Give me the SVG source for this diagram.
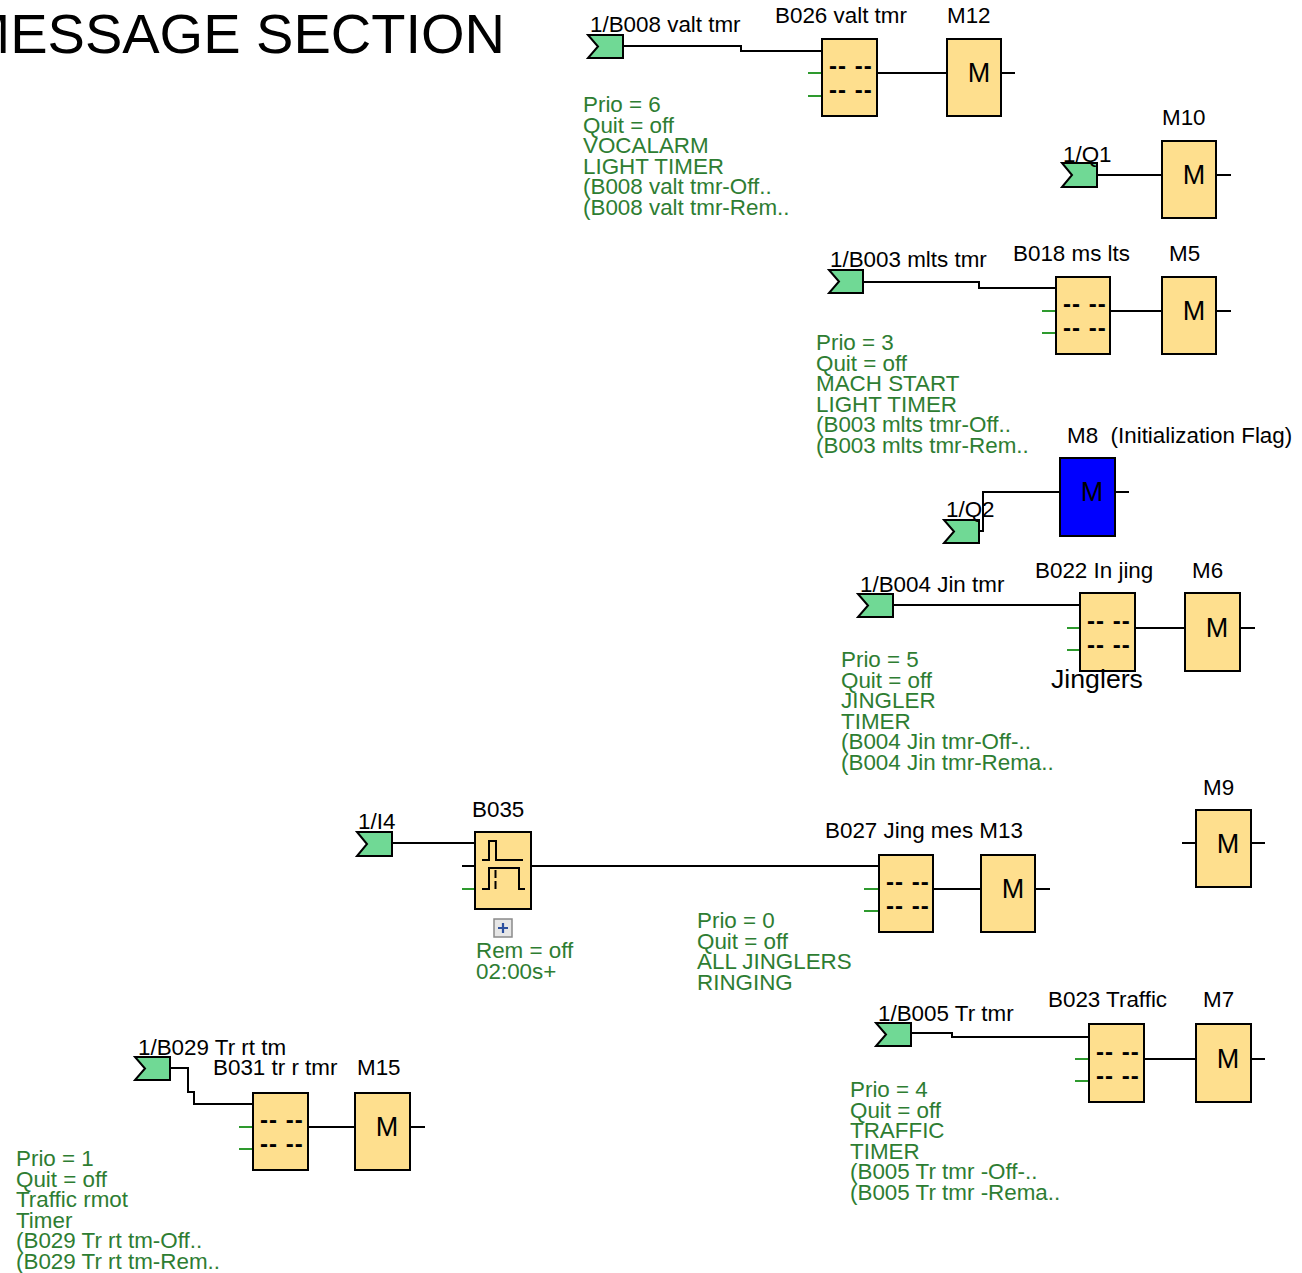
<svg xmlns="http://www.w3.org/2000/svg" width="1302" height="1273" viewBox="0 0 1302 1273">
<style>
text{font-family:"Liberation Sans",Arial,sans-serif}
.lbl{font-size:22.4px;fill:#000}
.gt{font-size:22.4px;fill:#2e7d32}
.mt{font-size:27px;fill:#000}
.dd{font-size:24px;fill:#000;letter-spacing:1px;font-weight:bold}
.blk{fill:#fedf8e;stroke:#000;stroke-width:2}
.mb{fill:#0000ff;stroke:#000;stroke-width:2}
.flag{fill:#70d995;stroke:#000;stroke-width:2}
.w{fill:none;stroke:#000;stroke-width:2}
.gi{fill:none;stroke:#2e9a2e;stroke-width:2}
</style>
<rect width="1302" height="1273" fill="#fff"/>
<text x="505" y="53" text-anchor="end" style="font-size:56px;fill:#000">MESSAGE SECTION</text>

<g id="connectors">
<path class="w" d="M623,46 H741 V51 H822"/>
<path class="w" d="M877,73 H947 M1001,73 H1015"/>
<path class="w" d="M1097,175 H1162 M1216,175 H1231"/>
<path class="w" d="M863,282 H979 V288 H1056"/>
<path class="w" d="M1110,311 H1162 M1216,311 H1231"/>
<path class="w" d="M979,531 H983 V492 H1060 M1115,492 H1129"/>
<path class="w" d="M893,605 H1080"/>
<path class="w" d="M1135,628 H1185 M1240,628 H1255"/>
<path class="w" d="M1182,843 H1196 M1251,843 H1265"/>
<path class="w" d="M392,843 H475 M462,866 H475 M531,866 H879"/>
<path class="w" d="M933,889 H981 M1035,889 H1050"/>
<path class="w" d="M911,1033 H952 V1037 H1089"/>
<path class="w" d="M1144,1059 H1196 M1251,1059 H1265"/>
<path class="w" d="M170,1068 H188 V1092 H194 V1104 H253"/>
<path class="w" d="M308,1127 H355 M410,1127 H425"/>
<path class="gi" d="M808,73 H822 M808,96 H822 M1042,311 H1056 M1042,333 H1056 M1067,628 H1080 M1067,650 H1080 M462,889 H475 M864,889 H879 M864,911 H879 M1075,1059 H1089 M1075,1081 H1089 M239,1127 H253 M239,1149 H253"/>
</g>

<g id="in_B008">
<path class="flag" d="M588,35 H623 V58 H588 L598,46.5 Z"/>
<text class="lbl" x="590" y="32">1/B008 valt tmr</text>
</g>
<g id="B026">
<rect class="blk" x="822" y="39" width="55" height="77"/>
<text class="dd" x="829" y="74">-- --</text>
<text class="dd" x="829" y="98">-- --</text>
<text class="lbl" x="775" y="23">B026 valt tmr</text>
<text class="gt" x="583" y="112">Prio = 6</text>
<text class="gt" x="583" y="132.5">Quit = off</text>
<text class="gt" x="583" y="153">VOCALARM</text>
<text class="gt" x="583" y="173.5">LIGHT TIMER</text>
<text class="gt" x="583" y="194">(B008 valt tmr-Off..</text>
<text class="gt" x="583" y="214.5">(B008 valt tmr-Rem..</text>
</g>
<g id="M12">
<rect class="blk" x="947" y="39" width="54" height="77"/>
<text class="mt" x="979" y="82" text-anchor="middle">M</text>
<text class="lbl" x="947" y="23">M12</text>
</g>

<g id="in_Q1">
<path class="flag" d="M1062,163 H1097 V187 H1062 L1072,175 Z"/>
<text class="lbl" x="1063" y="162">1/Q1</text>
</g>
<g id="M10">
<rect class="blk" x="1162" y="141" width="54" height="77"/>
<text class="mt" x="1194" y="184" text-anchor="middle">M</text>
<text class="lbl" x="1162" y="125">M10</text>
</g>

<g id="in_B003">
<path class="flag" d="M829,270 H863 V293 H829 L839,281.5 Z"/>
<text class="lbl" x="830" y="267">1/B003 mlts tmr</text>
</g>
<g id="B018">
<rect class="blk" x="1056" y="277" width="54" height="77"/>
<text class="dd" x="1063" y="312">-- --</text>
<text class="dd" x="1063" y="336">-- --</text>
<text class="lbl" x="1013" y="261">B018 ms lts</text>
<text class="gt" x="816" y="350">Prio = 3</text>
<text class="gt" x="816" y="370.5">Quit = off</text>
<text class="gt" x="816" y="391">MACH START</text>
<text class="gt" x="816" y="411.5">LIGHT TIMER</text>
<text class="gt" x="816" y="432">(B003 mlts tmr-Off..</text>
<text class="gt" x="816" y="452.5">(B003 mlts tmr-Rem..</text>
</g>
<g id="M5">
<rect class="blk" x="1162" y="277" width="54" height="77"/>
<text class="mt" x="1194" y="320" text-anchor="middle">M</text>
<text class="lbl" x="1169" y="261">M5</text>
</g>

<g id="in_Q2">
<path class="flag" d="M944,520 H979 V543 H944 L954,531.5 Z"/>
<text class="lbl" x="946" y="517">1/Q2</text>
</g>
<g id="M8">
<rect class="mb" x="1060" y="458" width="55" height="78"/>
<text class="mt" x="1092" y="501" text-anchor="middle">M</text>
<text class="lbl" x="1067" y="443" xml:space="preserve">M8  (Initialization Flag)</text>
</g>

<g id="in_B004">
<path class="flag" d="M858,594 H893 V617 H858 L868,605.5 Z"/>
<text class="lbl" x="860" y="592">1/B004 Jin tmr</text>
</g>
<g id="B022">
<rect class="blk" x="1080" y="593" width="55" height="78"/>
<text class="dd" x="1087" y="629">-- --</text>
<text class="dd" x="1087" y="653">-- --</text>
<text class="lbl" x="1035" y="578">B022 In jing</text>
<text x="1051" y="688" style="font-size:26.7px;fill:#000">Jinglers</text>
<text class="gt" x="841" y="667">Prio = 5</text>
<text class="gt" x="841" y="687.5">Quit = off</text>
<text class="gt" x="841" y="708">JINGLER</text>
<text class="gt" x="841" y="728.5">TIMER</text>
<text class="gt" x="841" y="749">(B004 Jin tmr-Off-..</text>
<text class="gt" x="841" y="769.5">(B004 Jin tmr-Rema..</text>
</g>
<g id="M6">
<rect class="blk" x="1185" y="593" width="55" height="78"/>
<text class="mt" x="1217" y="637" text-anchor="middle">M</text>
<text class="lbl" x="1192" y="578">M6</text>
</g>

<g id="M9">
<rect class="blk" x="1196" y="810" width="55" height="77"/>
<text class="mt" x="1228" y="853" text-anchor="middle">M</text>
<text class="lbl" x="1203" y="795">M9</text>
</g>

<g id="in_I4">
<path class="flag" d="M357,832 H392 V856 H357 L367,844 Z"/>
<text class="lbl" x="358" y="829">1/I4</text>
</g>
<g id="B035">
<rect class="blk" x="475" y="832" width="56" height="77"/>
<path class="w" d="M482,860 H489 V841 H496 V860 H523"/>
<path class="w" d="M482,889 H489 V868 H519 V889 H525"/>
<path class="w" d="M495.5,870 V890" stroke-dasharray="8,3"/>
<text class="lbl" x="472" y="817">B035</text>
<rect x="494" y="919" width="18" height="18" fill="#e6e6e6" stroke="#8a8a8a" stroke-width="1.5"/>
<path d="M498,928 H508 M503,923 V933" stroke="#2b4f9e" stroke-width="2.2"/>
<text class="gt" x="476" y="958">Rem = off</text>
<text class="gt" x="476" y="978.5">02:00s+</text>
</g>

<g id="B027">
<rect class="blk" x="879" y="855" width="54" height="77"/>
<text class="dd" x="886" y="890">-- --</text>
<text class="dd" x="886" y="914">-- --</text>
<text class="lbl" x="825" y="838">B027 Jing mes M13</text>
<text class="gt" x="697" y="928">Prio = 0</text>
<text class="gt" x="697" y="948.5">Quit = off</text>
<text class="gt" x="697" y="969">ALL JINGLERS</text>
<text class="gt" x="697" y="989.5">RINGING</text>
</g>
<g id="M13">
<rect class="blk" x="981" y="855" width="54" height="77"/>
<text class="mt" x="1013" y="898" text-anchor="middle">M</text>
</g>

<g id="in_B005">
<path class="flag" d="M876,1023 H911 V1046 H876 L886,1034.5 Z"/>
<text class="lbl" x="878" y="1021">1/B005 Tr tmr</text>
</g>
<g id="B023">
<rect class="blk" x="1089" y="1024" width="55" height="78"/>
<text class="dd" x="1096" y="1060">-- --</text>
<text class="dd" x="1096" y="1084">-- --</text>
<text class="lbl" x="1048" y="1007">B023 Traffic</text>
<text class="gt" x="850" y="1097">Prio = 4</text>
<text class="gt" x="850" y="1117.5">Quit = off</text>
<text class="gt" x="850" y="1138">TRAFFIC</text>
<text class="gt" x="850" y="1158.5">TIMER</text>
<text class="gt" x="850" y="1179">(B005 Tr tmr -Off-..</text>
<text class="gt" x="850" y="1199.5">(B005 Tr tmr -Rema..</text>
</g>
<g id="M7">
<rect class="blk" x="1196" y="1024" width="55" height="78"/>
<text class="mt" x="1228" y="1068" text-anchor="middle">M</text>
<text class="lbl" x="1203" y="1007">M7</text>
</g>

<g id="in_B029">
<path class="flag" d="M135,1057 H170 V1080 H135 L145,1068.5 Z"/>
<text class="lbl" x="138" y="1055">1/B029 Tr rt tm</text>
</g>
<g id="B031">
<rect class="blk" x="253" y="1093" width="55" height="77"/>
<text class="dd" x="260" y="1128">-- --</text>
<text class="dd" x="260" y="1152">-- --</text>
<text class="lbl" x="213" y="1075">B031 tr r tmr</text>
<text class="gt" x="16" y="1166">Prio = 1</text>
<text class="gt" x="16" y="1186.5">Quit = off</text>
<text class="gt" x="16" y="1207">Traffic rmot</text>
<text class="gt" x="16" y="1227.5">Timer</text>
<text class="gt" x="16" y="1248">(B029 Tr rt tm-Off..</text>
<text class="gt" x="16" y="1268.5">(B029 Tr rt tm-Rem..</text>
</g>
<g id="M15">
<rect class="blk" x="355" y="1093" width="55" height="77"/>
<text class="mt" x="387" y="1136" text-anchor="middle">M</text>
<text class="lbl" x="357" y="1075">M15</text>
</g>
</svg>
